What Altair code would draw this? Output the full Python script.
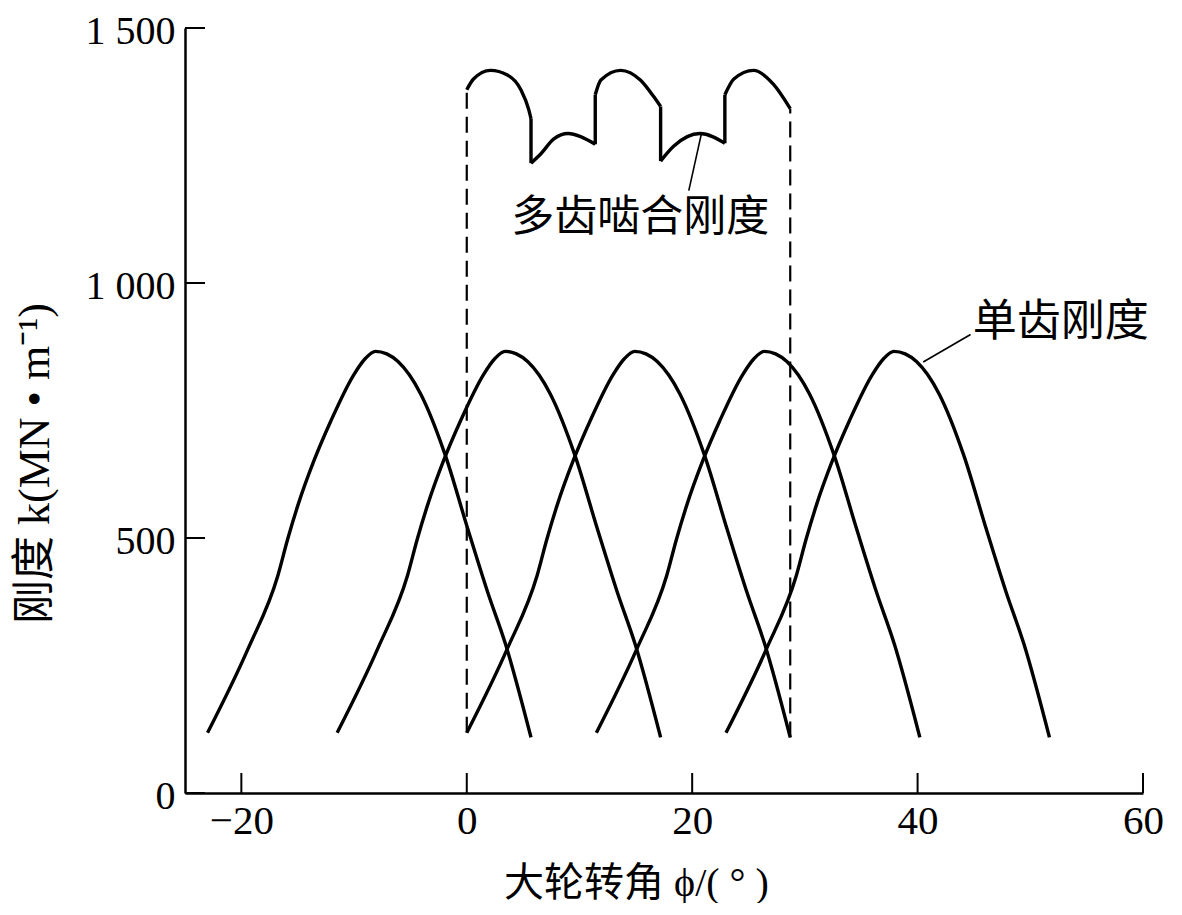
import altair as alt
import pandas as pd

# ---------------- data ----------------
# single-tooth stiffness (MN/m), same ordinates for each tooth
single_k = [118, 283, 427, 497, 563, 652, 730, 821, 852, 866, 861, 846, 783, 662, 517, 394, 291, 109]
tooth1_phi = [-23.0, -19.4, -16.75, -15.9, -15.0, -13.55, -12.05, -10.0, -9.0, -8.1, -7.1, -6.1, -4.1, -1.9, 0.1, 1.85, 3.45, 5.7]
tooth2_phi = [-11.5, -7.9, -5.25, -4.4, -3.5, -2.05, -0.55, 1.5, 2.5, 3.4, 4.4, 5.4, 7.4, 9.6, 11.6, 13.35, 14.95, 17.2]
tooth3_phi = [0.0, 3.6, 6.25, 7.1, 8.0, 9.45, 10.95, 13.0, 14.0, 14.9, 15.9, 16.9, 18.9, 21.1, 23.1, 24.85, 26.45, 28.7]
tooth4_phi = [11.5, 15.1, 17.75, 18.6, 19.5, 20.95, 22.45, 24.5, 25.5, 26.4, 27.4, 28.4, 30.4, 32.6, 34.6, 36.35, 37.95, 40.2]
tooth5_phi = [23.0, 26.6, 29.25, 30.1, 31.0, 32.45, 33.95, 36.0, 37.0, 37.9, 38.9, 39.9, 41.9, 44.1, 46.1, 47.85, 49.45, 51.7]

# multi-tooth mesh stiffness, piecewise segments
multi_seg_a_phi = [0.0, 0.6, 2.1, 3.6, 4.8, 5.5, 5.7]
multi_seg_a_k = [1379, 1400, 1417, 1408, 1379, 1340, 1322]
multi_seg_b_phi = [5.7, 6.6, 7.7, 9.0, 10.1, 11.4]
multi_seg_b_k = [1235, 1254, 1282, 1293, 1287, 1272]
multi_seg_c_phi = [11.4, 11.9, 13.65, 15.4, 16.6, 17.2]
multi_seg_c_k = [1369, 1398, 1417, 1398, 1365, 1346]
multi_seg_d_phi = [17.2, 18.35, 20.7, 22.9]
multi_seg_d_k = [1239, 1268, 1293, 1274]
multi_seg_e_phi = [22.9, 23.7, 25.45, 27.2, 28.7]
multi_seg_e_k = [1369, 1400, 1417, 1390, 1342]

# vertical jumps of the multi-tooth curve
jump_phi = [5.7, 11.4, 17.2, 22.9]
jump_k_from = [1322, 1272, 1346, 1274]
jump_k_to = [1235, 1369, 1239, 1369]

# dashed boundaries of the mesh period
dash_phi = [0.0, 28.7]
dash_k_low = [118, 109]
dash_k_high = [1379, 1342]

# annotations
multi_label = ["多齿啮合刚度"]
multi_label_phi = [15.4]
multi_label_k = [1128]
single_label = ["单齿刚度"]
single_label_phi = [44.9]
single_label_k = [922]
leader_phi = [20.8, 40.5]
leader_k = [1291, 845]
leader_phi2 = [19.7, 44.7]
leader_k2 = [1181, 899]

x_ticks = [-20, 0, 20, 40, 60]
y_ticks = [0, 500, 1000, 1500]

# ---------------- build tables ----------------
rows = []
for i, xs in enumerate([tooth1_phi, tooth2_phi, tooth3_phi, tooth4_phi, tooth5_phi]):
    for j, (xv, yv) in enumerate(zip(xs, single_k)):
        rows.append({"x": xv, "y": yv, "curve": f"t{i+1}", "order": j})
single_df = pd.DataFrame(rows)

rows = []
segs = [(multi_seg_a_phi, multi_seg_a_k), (multi_seg_b_phi, multi_seg_b_k),
        (multi_seg_c_phi, multi_seg_c_k), (multi_seg_d_phi, multi_seg_d_k),
        (multi_seg_e_phi, multi_seg_e_k)]
for i, (xs, ys) in enumerate(segs):
    for j, (xv, yv) in enumerate(zip(xs, ys)):
        rows.append({"x": xv, "y": yv, "curve": f"m{i}", "order": j})
multi_df = pd.DataFrame(rows)

jump_df = pd.DataFrame({"x": jump_phi, "y": jump_k_from, "y2": jump_k_to})
dash_df = pd.DataFrame({"x": dash_phi, "y": dash_k_low, "y2": dash_k_high})
mlab_df = pd.DataFrame({"x": multi_label_phi, "y": multi_label_k, "t": multi_label})
slab_df = pd.DataFrame({"x": single_label_phi, "y": single_label_k, "t": single_label})
leader_df = pd.DataFrame({"x": leader_phi, "y": leader_k, "x2": leader_phi2, "y2": leader_k2})
xt_df = pd.DataFrame({"x": x_ticks})
yt_df = pd.DataFrame({"y": y_ticks})

W, H = 958, 765
SERIF = "Liberation Serif, Noto Sans CJK SC"
CJK = "Noto Sans CJK SC"

xscale = alt.Scale(domain=[-25, 60], nice=False, zero=False)
yscale = alt.Scale(domain=[0, 1500], nice=False)

x_axis = alt.Axis(
    values=x_ticks, ticks=False, grid=False, domainWidth=2.5, domainColor="black",
    labelFont="Liberation Serif", labelFontSize=41, labelColor="black", labelPadding=8,
    labelFlush=False,
    title="大轮转角 ϕ/( ° )", titleFont=SERIF, titleFontSize=40, titleFontWeight="normal",
    titleColor="black", titleX=451, titleY=90, titleBaseline="middle", titleAlign="center",
)
y_axis = alt.Axis(
    values=y_ticks, ticks=False, grid=False, domainWidth=2.5, domainColor="black",
    labelFont="Liberation Serif", labelFontSize=40, labelColor="black", labelPadding=10,
    labelFlush=False, labelOffset=3,
    labelExpr="datum.value == 1500 ? '1 500' : datum.value == 1000 ? '1 000' : datum.label",
    title="刚度 k(MN • m⁻¹)", titleFont=SERIF, titleFontSize=44, titleFontWeight="normal",
    titleColor="black", titleX=-150, titleY=435, titleBaseline="middle", titleAlign="center",
    titleAngle=270,
)

X = alt.X("x:Q", scale=xscale, axis=x_axis)
Y = alt.Y("y:Q", scale=yscale, axis=y_axis)

single = alt.Chart(single_df).mark_line(
    color="black", strokeWidth=3.4, interpolate="monotone"
).encode(x=X, y=Y, detail="curve:N", order="order:Q")

multi = alt.Chart(multi_df).mark_line(
    color="black", strokeWidth=3.4, interpolate="monotone"
).encode(x=X, y=Y, detail="curve:N", order="order:Q")

jumps = alt.Chart(jump_df).mark_rule(color="black", strokeWidth=3.4).encode(
    x=X, y=Y, y2="y2:Q"
)

dashes = alt.Chart(dash_df).mark_rule(color="black", strokeWidth=2.2, strokeDash=[16, 8]).encode(
    x=X, y=Y, y2="y2:Q"
)

leaders = alt.Chart(leader_df).mark_rule(color="black", strokeWidth=1.6).encode(
    x=X, y=Y, x2="x2:Q", y2="y2:Q"
)

mlabel = alt.Chart(mlab_df).mark_text(
    font=CJK, fontSize=43, color="black", baseline="middle", align="center"
).encode(x=X, y=Y, text="t:N")

slabel = alt.Chart(slab_df).mark_text(
    font=CJK, fontSize=44, color="black", baseline="middle", align="left"
).encode(x=X, y=Y, text="t:N")

xticks = alt.Chart(xt_df).mark_rule(color="black", strokeWidth=2).encode(
    x=X, y=alt.value(H), y2=alt.value(H - 20)
)
yticks = alt.Chart(yt_df).mark_rule(color="black", strokeWidth=2).encode(
    y=Y, x=alt.value(0), x2=alt.value(20)
)

chart = alt.layer(dashes, single, multi, jumps, leaders, mlabel, slabel, xticks, yticks).properties(
    width=W, height=H,
    autosize=alt.AutoSizeParams(type="none"),
    padding={"left": 177, "top": 20, "right": 30, "bottom": 110},
    view=alt.ViewBackground(stroke="transparent", strokeWidth=0),
).configure_view(stroke="transparent", strokeWidth=0).configure(background="white")

chart.save("out.html", embed_options={"renderer": "svg", "actions": False})
